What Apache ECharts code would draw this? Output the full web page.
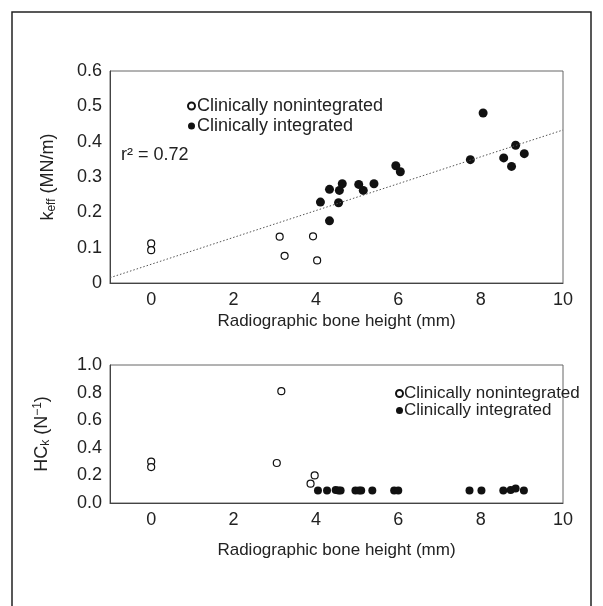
<!DOCTYPE html>
<html>
<head>
<meta charset="utf-8">
<script src="https://cdn.jsdelivr.net/npm/echarts@6/dist/echarts.min.js"></script>
<style>html,body{margin:0;padding:0;background:#fff}#c{width:603px;height:606px}</style>
</head>
<body>
<div id="c"></div>
<script>
// Top panel: effective stiffness vs bone height
const topNonX = [0, 0, 3.12, 3.24, 3.93, 4.03];
const topNonY = [0.112, 0.093, 0.131, 0.077, 0.132, 0.064];
const topIntX = [4.11, 4.33, 4.33, 4.55, 4.57, 4.64, 5.04, 5.15, 5.41, 5.94, 6.05, 7.75, 8.06, 8.56, 8.75, 8.85, 9.06];
const topIntY = [0.229, 0.265, 0.176, 0.227, 0.262, 0.281, 0.279, 0.262, 0.281, 0.332, 0.315, 0.349, 0.481, 0.354, 0.330, 0.390, 0.366];
const trendX = [-1, 10];
const trendY = [0.015, 0.433];
// Bottom panel: HCk vs bone height
const botNonX = [0, 0, 3.05, 3.16, 3.87, 3.97];
const botNonY = [0.30, 0.26, 0.29, 0.81, 0.14, 0.20];
const botIntX = [4.05, 4.27, 4.48, 4.55, 4.6, 4.96, 5.05, 5.1, 5.37, 5.9, 6.0, 7.73, 8.02, 8.55, 8.73, 8.85, 9.05];
const botIntY = [0.09, 0.09, 0.095, 0.09, 0.09, 0.09, 0.09, 0.09, 0.09, 0.09, 0.09, 0.09, 0.09, 0.09, 0.095, 0.105, 0.09];
const xTicks = [0, 2, 4, 6, 8, 10];
const topYTicks = ['0', '0.1', '0.2', '0.3', '0.4', '0.5', '0.6'];
const botYTicks = ['0.0', '0.2', '0.4', '0.6', '0.8', '1.0'];
const names = ['Clinically nonintegrated', 'Clinically integrated'];

const FONT = 'Liberation Sans';
const TXT = '#222';
const zip = (a, b) => a.map((v, i) => [v, b[i]]);

function xAxis(gridIndex, gap) {
  return {
    gridIndex, type: 'value', min: -1, max: 10, interval: 1,
    axisLine: {show: true, onZero: false, lineStyle: {color: '#444', width: 1}},
    axisTick: {show: false}, splitLine: {show: false},
    axisLabel: {color: TXT, fontSize: 18, fontFamily: FONT, margin: 8,
      formatter: v => xTicks.indexOf(v) >= 0 ? String(v) : ''},
    name: 'Radiographic bone height (mm)', nameLocation: 'middle', nameGap: gap,
    nameTextStyle: {color: TXT, fontSize: 17, fontFamily: FONT}
  };
}

const openStyle = {color: '#fff', borderColor: '#111', borderWidth: 1.2, opacity: 1};
const fillStyle = {color: '#111', opacity: 1};

const option = {
  animation: false,
  backgroundColor: '#fff',
  grid: [
    {left: 110, right: 40, top: 71, height: 212, show: true, borderColor: '#666', borderWidth: 1},
    {left: 110, right: 40, top: 365, height: 138, show: true, borderColor: '#666', borderWidth: 1}
  ],
  xAxis: [xAxis(0, 30), xAxis(1, 39)],
  yAxis: [
    {gridIndex: 0, type: 'value', min: 0, max: 0.6, interval: 0.1,
     axisLine: {show: true, onZero: false, lineStyle: {color: '#444'}}, axisTick: {show: false}, splitLine: {show: false},
     axisLabel: {color: TXT, fontSize: 18, fontFamily: FONT, margin: 8,
       formatter: (v) => topYTicks[Math.round(v * 10)]},
     name: 'k{sub|eff} (MN/m)', nameLocation: 'middle', nameGap: 52,
     nameTextStyle: {color: TXT, fontSize: 18, fontFamily: FONT,
       rich: {sub: {fontSize: 12, fontFamily: FONT, color: TXT, verticalAlign: 'bottom', padding: [8, 0, 0, 0]}}}},
    {gridIndex: 1, type: 'value', min: 0, max: 1, interval: 0.2,
     axisLine: {show: true, onZero: false, lineStyle: {color: '#444'}}, axisTick: {show: false}, splitLine: {show: false},
     axisLabel: {color: TXT, fontSize: 18, fontFamily: FONT, margin: 8,
       formatter: (v) => botYTicks[Math.round(v * 5)]},
     name: 'HC{sub|k} (N{sup|−1})', nameLocation: 'middle', nameGap: 58,
     nameTextStyle: {color: TXT, fontSize: 18, fontFamily: FONT,
       rich: {sub: {fontSize: 12, fontFamily: FONT, color: TXT, verticalAlign: 'bottom', padding: [8, 0, 0, 0]},
              sup: {fontSize: 12, fontFamily: FONT, color: TXT, verticalAlign: 'top', padding: [0, 0, 8, 0]}}}}
  ],
  legend: [
    {data: names, orient: 'vertical', left: 182, top: 92, itemWidth: 7, itemHeight: 7, itemGap: 2,
     icon: 'circle', textStyle: {color: TXT, fontSize: 18, fontFamily: FONT, padding: [0, 0, 0, -3]},
     selectedMode: false},
    {data: names, orient: 'vertical', left: 390, top: 380, itemWidth: 7, itemHeight: 7, itemGap: 0,
     icon: 'circle', textStyle: {color: TXT, fontSize: 17, fontFamily: FONT, padding: [0, 0, 0, -4]},
     selectedMode: false}
  ],
  graphic: [
    {type: 'polyline', silent: true, shape: {points: [[12, 606], [12, 12], [591, 12], [591, 606]]},
     style: {stroke: '#222', lineWidth: 1.5, fill: null}},
    {type: 'text', left: 121, top: 146, style: {text: 'r² = 0.72', fill: TXT, fontSize: 18, fontFamily: FONT}}
  ],
  series: [
    {name: names[0], type: 'scatter', xAxisIndex: 0, yAxisIndex: 0, data: zip(topNonX, topNonY),
     symbolSize: 7, itemStyle: openStyle},
    {name: names[1], type: 'scatter', xAxisIndex: 0, yAxisIndex: 0, data: zip(topIntX, topIntY),
     symbolSize: 9, itemStyle: fillStyle},
    {name: 'trend', type: 'line', xAxisIndex: 0, yAxisIndex: 0, data: zip(trendX, trendY),
     symbol: 'none', lineStyle: {color: '#555', width: 1, type: [1.5, 2]}, silent: true},
    {name: names[0], type: 'scatter', xAxisIndex: 1, yAxisIndex: 1, data: zip(botNonX, botNonY),
     symbolSize: 7, itemStyle: openStyle},
    {name: names[1], type: 'scatter', xAxisIndex: 1, yAxisIndex: 1, data: zip(botIntX, botIntY),
     symbolSize: 8, itemStyle: fillStyle}
  ]
};
echarts.init(document.getElementById('c'), null, {renderer: 'canvas'}).setOption(option);
</script>
</body>
</html>
